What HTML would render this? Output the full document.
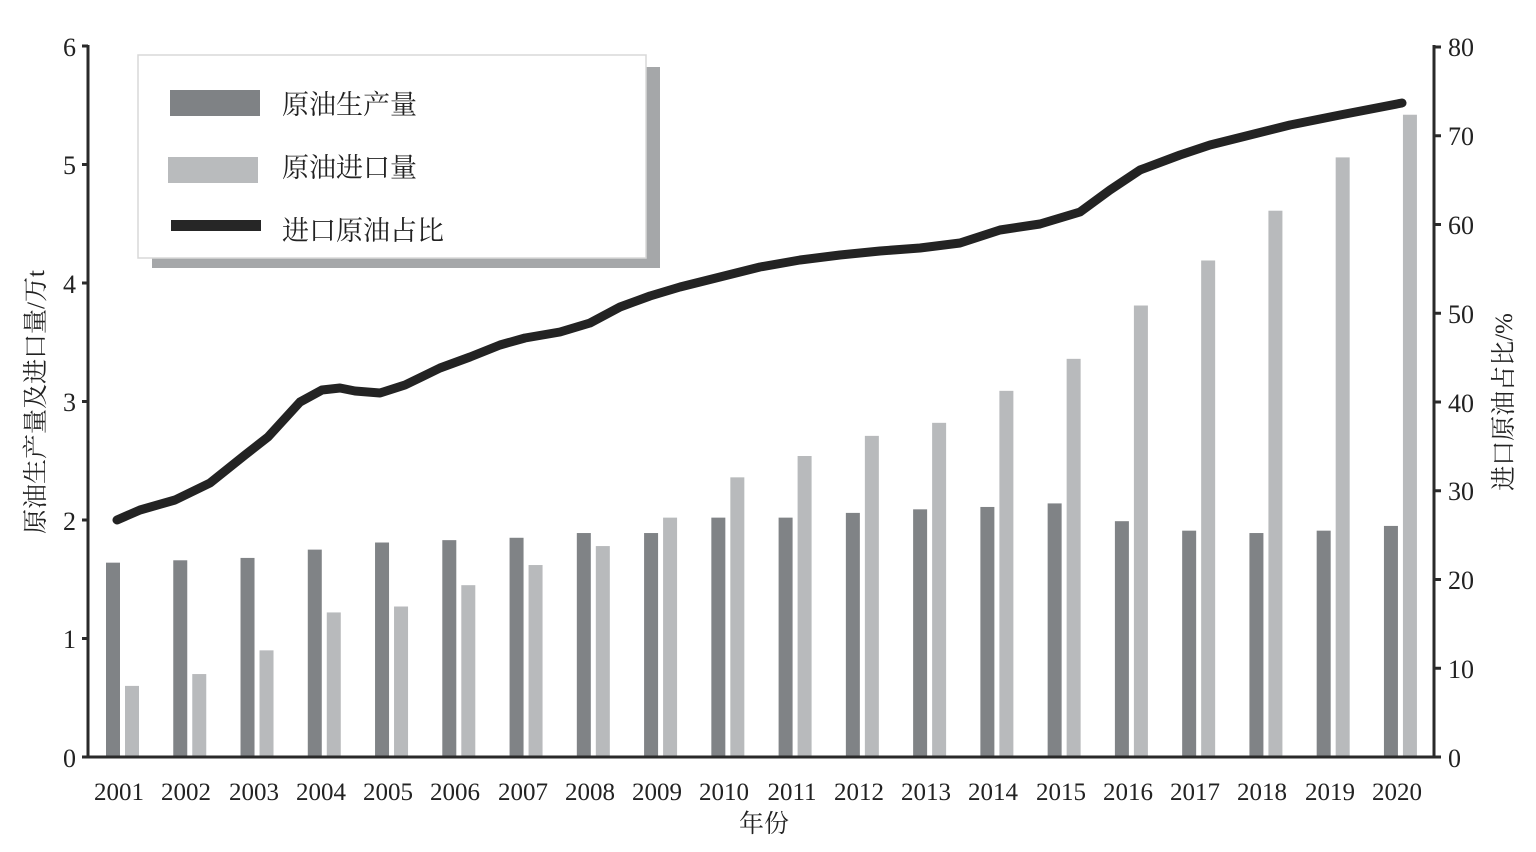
<!DOCTYPE html>
<html><head><meta charset="utf-8"><style>
html,body{margin:0;padding:0;background:#fff;}
svg{display:block;font-family:"Liberation Serif","Noto Serif CJK SC",serif;}
</style></head><body>
<svg id="c" width="1536" height="852" viewBox="0 0 1536 852">
<rect width="1536" height="852" fill="#fff"/>
<g id="bars"></g>
<!-- legend -->
<rect x="152" y="67" width="508" height="201" fill="#a5a7a9"/>
<rect x="138" y="55" width="508" height="203" fill="#fff" stroke="#d8d8d8" stroke-width="1.5"/>
<rect x="170" y="90" width="90" height="26" fill="#7f8285"/>
<rect x="168" y="157" width="90" height="26" fill="#b9bbbd"/>
<rect x="171" y="220" width="90" height="11" fill="#262626"/>
<g font-size="27" fill="#222">
<text x="282" y="114">原油生产量</text>
<text x="282" y="177">原油进口量</text>
<text x="282" y="240">进口原油占比</text>
</g>
<polyline id="line" fill="none" stroke="#232323" stroke-width="9" stroke-linejoin="round" stroke-linecap="round"/>
<!-- axes -->
<g stroke="#2a2a2a" stroke-width="3">
<line x1="88" y1="45" x2="88" y2="758"/>
<line x1="1434" y1="45" x2="1434" y2="758"/>
<line x1="84" y1="757" x2="1441" y2="757"/>
</g>
<g id="ticks" stroke="#2a2a2a" stroke-width="3"></g>
<g font-size="26" fill="#222" text-anchor="end">
<text x="76" y="56">6</text><text x="76" y="174">5</text><text x="76" y="293">4</text>
<text x="76" y="411">3</text><text x="76" y="530">2</text><text x="76" y="648">1</text><text x="76" y="767">0</text>
</g>
<g font-size="26" fill="#222" text-anchor="start">
<text x="1448" y="56">80</text><text x="1448" y="145">70</text><text x="1448" y="234">60</text>
<text x="1448" y="323">50</text><text x="1448" y="412">40</text><text x="1448" y="500">30</text>
<text x="1448" y="589">20</text><text x="1448" y="678">10</text><text x="1448" y="767">0</text>
</g>
<g id="years" font-size="25" fill="#222" text-anchor="middle">
<text x="119" y="800">2001</text><text x="186" y="800">2002</text><text x="254" y="800">2003</text><text x="321" y="800">2004</text><text x="388" y="800">2005</text><text x="455" y="800">2006</text><text x="523" y="800">2007</text><text x="590" y="800">2008</text><text x="657" y="800">2009</text><text x="724" y="800">2010</text><text x="792" y="800">2011</text><text x="859" y="800">2012</text><text x="926" y="800">2013</text><text x="993" y="800">2014</text><text x="1061" y="800">2015</text><text x="1128" y="800">2016</text><text x="1195" y="800">2017</text><text x="1262" y="800">2018</text><text x="1330" y="800">2019</text><text x="1397" y="800">2020</text>
</g>
<text x="764" y="832" font-size="25" fill="#222" text-anchor="middle">年份</text>
<text transform="translate(44,402) rotate(-90)" font-size="25" fill="#222" text-anchor="middle">原油生产量及进口量/万t</text>
<text transform="translate(1512,402) rotate(-90)" font-size="25" fill="#222" text-anchor="middle">进口原油占比/%</text>
</svg>
<script>
var d=[1.64,1.66,1.68,1.75,1.81,1.83,1.85,1.89,1.89,2.02,2.02,2.06,2.09,2.11,2.14,1.99,1.91,1.89,1.91,1.95];
var l=[0.60,0.70,0.90,1.22,1.27,1.45,1.62,1.78,2.02,2.36,2.54,2.71,2.82,3.09,3.36,3.81,4.19,4.61,5.06,5.42];
var s='',ns='http://www.w3.org/2000/svg',g=document.getElementById('bars');
for(var i=0;i<20;i++){var c=119+i*67.26;
s+='<rect x="'+(c-13)+'" y="'+(757-d[i]*118.5)+'" width="14" height="'+(d[i]*118.5)+'" fill="#808386"/>';
s+='<rect x="'+(c+6)+'" y="'+(757-l[i]*118.5)+'" width="14" height="'+(l[i]*118.5)+'" fill="#b8babc"/>';}
g.innerHTML=s;
var p=[[117,520],[140,510],[175,500],[210,483],[245,455],[268,437],[300,402],[322,390],[340,388],[355,391],[380,393],[405,385],[440,368],[470,357],[500,345],[525,338],[560,332],[590,323],[620,307],[650,296],[680,287],[720,277],[760,267],[800,260],[840,255],[880,251],[920,248],[960,243],[1000,230],[1040,224],[1080,212],[1110,190],[1140,170],[1180,155],[1210,145],[1250,135],[1290,125],[1340,115],[1402,103]];
document.getElementById('line').setAttribute('points',p.map(function(a){return a.join(',')}).join(' '));
var t='';for(var k=0;k<=6;k++){var y=757-k*118.5;t+='<line x1="82" y1="'+y+'" x2="88" y2="'+y+'"/>';}
for(var k=0;k<=8;k++){var y=757-k*88.75;t+='<line x1="1434" y1="'+y+'" x2="1441" y2="'+y+'"/>';}
document.getElementById('ticks').innerHTML=t;
</script>
</body></html>
